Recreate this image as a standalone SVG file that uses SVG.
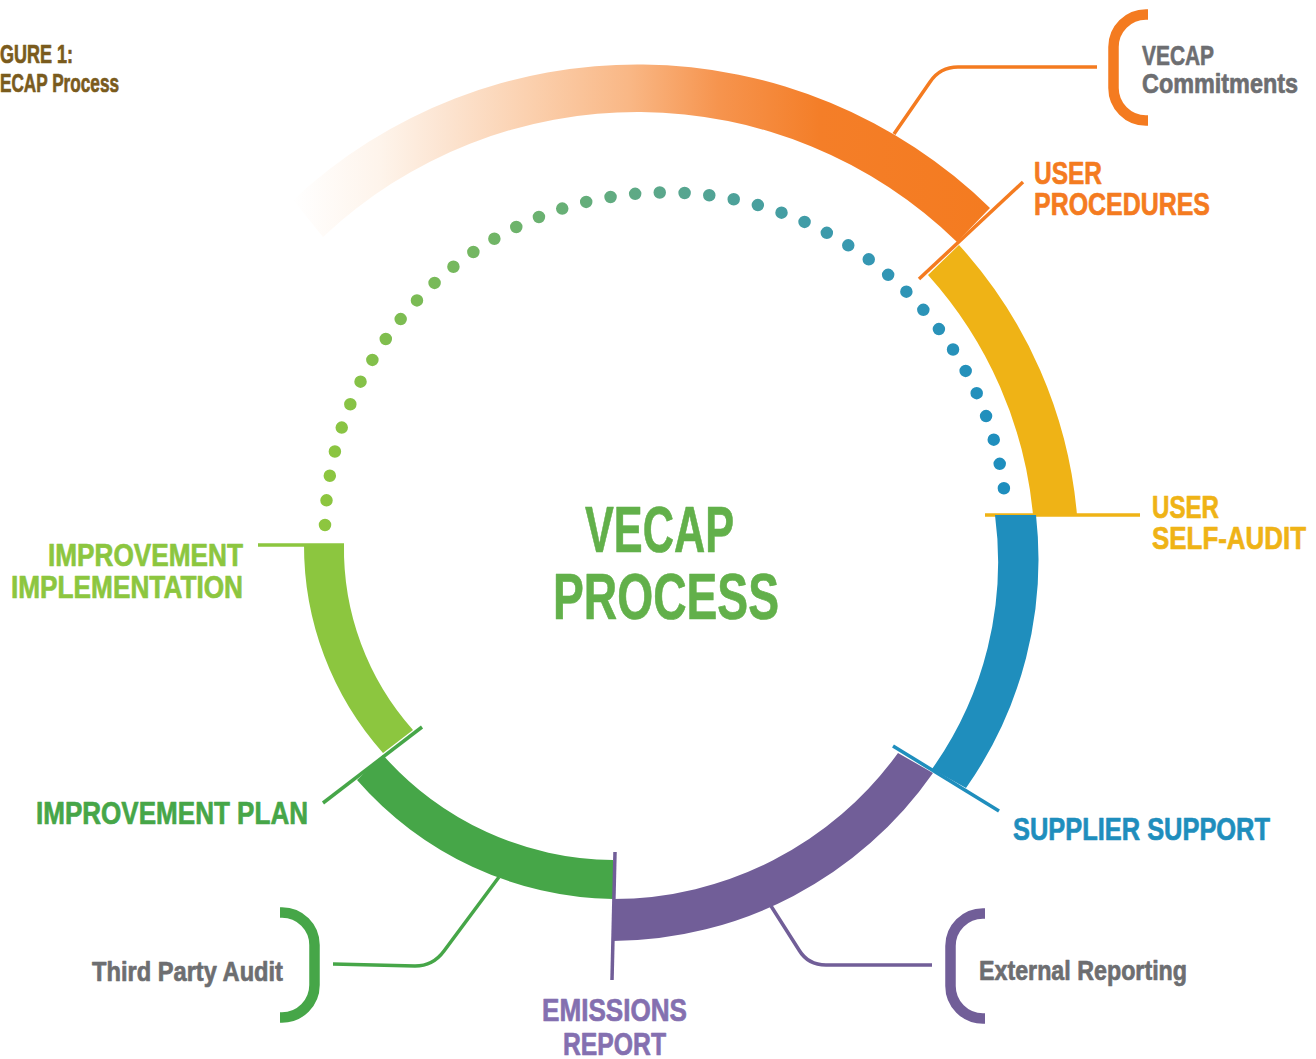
<svg xmlns="http://www.w3.org/2000/svg" width="1316" height="1059" viewBox="0 0 1316 1059">
  <defs>
    <!-- fade of the procedures arc from white into full orange -->
    <linearGradient id="gradProcedures" gradientUnits="userSpaceOnUse" x1="293" y1="0" x2="990" y2="0">
      <stop offset="0" stop-color="#FFFFFF"/>
      <stop offset="0.125" stop-color="#FEF4EB"/>
      <stop offset="0.225" stop-color="#FCE3CF"/>
      <stop offset="0.34" stop-color="#FBD0AE"/>
      <stop offset="0.483" stop-color="#F9B785"/>
      <stop offset="0.61" stop-color="#F6944E"/>
      <stop offset="0.756" stop-color="#F47E28"/>
      <stop offset="1" stop-color="#F47B20"/>
    </linearGradient>
    <!-- dotted return path, green on the left to blue on the right -->
    <linearGradient id="gradDots" gradientUnits="userSpaceOnUse" x1="325" y1="0" x2="1004" y2="0">
      <stop offset="0" stop-color="#8DC63F"/>
      <stop offset="0.1" stop-color="#7EBD50"/>
      <stop offset="0.5" stop-color="#5AA78C"/>
      <stop offset="0.8" stop-color="#3597B3"/>
      <stop offset="1" stop-color="#1E8EBE"/>
    </linearGradient>
  </defs>
  <style>
    .lbl { font-family: "Liberation Sans", Arial, "DejaVu Sans Condensed", sans-serif; font-weight: bold; stroke-width: 0.7; stroke-linejoin: round; }
    .big { font-size: 32px; }
    .note { font-size: 28px; }
    .c-title { fill: #7A5B1D; stroke: #7A5B1D; }
    .c-centre { fill: #62B04A; stroke: #62B04A; }
    .c-orange { fill: #F47B20; stroke: #F47B20; }
    .c-yellow { fill: #EFB316; stroke: #EFB316; }
    .c-blue { fill: #1F8EBD; stroke: #1F8EBD; }
    .c-purple { fill: #8470B0; stroke: #8470B0; }
    .c-green { fill: #46A648; stroke: #46A648; }
    .c-lime { fill: #8CC63F; stroke: #8CC63F; }
    .c-grey { fill: #6D6E71; stroke: #6D6E71; }
    .tick { fill: none; stroke-width: 3.5; }
    .link { fill: none; stroke-width: 3.5; stroke-linecap: butt; }
    .bracket { fill: none; stroke-width: 10.5; }
  </style>

  <rect width="1316" height="1059" fill="#FFFFFF"/>

  <!-- figure caption -->
  <g id="caption">
    <text class="lbl c-title" x="0" y="63" font-size="25" textLength="73" lengthAdjust="spacingAndGlyphs">GURE 1:</text>
    <text class="lbl c-title" x="0" y="92" font-size="25" stroke-width="0.3" textLength="119" lengthAdjust="spacingAndGlyphs">ECAP Process</text>
  </g>

  <!-- dotted arc closing the cycle: 42 dots, the path runs half a step past the last one -->
  <g id="cycle-return">
    <path d="M325,525 A341,341 0 0 1 1005.3,500.5" fill="none" stroke="url(#gradDots)" stroke-width="12.5" stroke-linecap="round" pathLength="41.5" stroke-dasharray="0 1"/>
  </g>

  <!-- centre title -->
  <g id="centre">
    <text class="lbl c-centre" x="585" y="552" font-size="65" stroke-width="1.2" textLength="149" lengthAdjust="spacingAndGlyphs">VECAP</text>
    <text class="lbl c-centre" x="553" y="619" font-size="65" stroke-width="1.2" textLength="226" lengthAdjust="spacingAndGlyphs">PROCESS</text>
  </g>

  <g id="user-procedures">
    <path d="M293,200 A505,505 0 0 1 990,208 L957,242 A458,458 0 0 0 323,237 Z" fill="url(#gradProcedures)"/>
    <line class="tick" x1="1023" y1="182" x2="919" y2="279" stroke="#F47B20"/>
    <text class="lbl big c-orange" x="1034" y="184" textLength="68" lengthAdjust="spacingAndGlyphs">USER</text>
    <text class="lbl big c-orange" x="1034" y="215" textLength="176" lengthAdjust="spacingAndGlyphs">PROCEDURES</text>
  </g>

  <g id="user-self-audit">
    <path d="M959,245 A460,460 0 0 1 1077,515 L1033,515 A415,415 0 0 0 928,275 Z" fill="#EFB316"/>
    <line class="tick" x1="985" y1="515" x2="1140" y2="515" stroke="#EFB316"/>
    <text class="lbl big c-yellow" x="1152" y="518" textLength="67" lengthAdjust="spacingAndGlyphs">USER</text>
    <text class="lbl big c-yellow" x="1152" y="549" textLength="154" lengthAdjust="spacingAndGlyphs">SELF-AUDIT</text>
  </g>

  <g id="supplier-support">
    <path d="M1036,515 A397,397 0 0 1 966,788 L932,769 A357,357 0 0 0 995,515 Z" fill="#1F8EBD"/>
    <text class="lbl big c-blue" x="1013" y="840" textLength="257" lengthAdjust="spacingAndGlyphs">SUPPLIER SUPPORT</text>
  </g>

  <g id="emissions-report">
    <path d="M933,773 A393,393 0 0 1 613,941 L613,899 A352,352 0 0 0 898,753 Z" fill="#715E98"/>
    <text class="lbl big c-purple" x="542" y="1021" textLength="145" lengthAdjust="spacingAndGlyphs">EMISSIONS</text>
    <text class="lbl big c-purple" x="563" y="1055" textLength="103" lengthAdjust="spacingAndGlyphs">REPORT</text>
  </g>

  <g id="improvement-plan">
    <path d="M613,899 A347,347 0 0 1 357,780 L383,755 A309,309 0 0 0 613,860 Z" fill="#46A648"/>
    <text class="lbl big c-green" x="36" y="824" textLength="272" lengthAdjust="spacingAndGlyphs">IMPROVEMENT PLAN</text>
  </g>

  <g id="improvement-implementation">
    <path d="M383,753 A312,312 0 0 1 304,544 L344,544 A272,272 0 0 0 413,730 Z" fill="#8CC63F"/>
    <line class="tick" x1="258" y1="545" x2="344" y2="545" stroke="#8CC63F"/>
    <text class="lbl big c-lime" x="48" y="566" textLength="195" lengthAdjust="spacingAndGlyphs">IMPROVEMENT</text>
    <text class="lbl big c-lime" x="11" y="598" textLength="232" lengthAdjust="spacingAndGlyphs">IMPLEMENTATION</text>
  </g>

  <!-- segment start markers drawn over the band joints -->
  <g id="segment-ticks">
    <line class="tick" x1="893" y1="746" x2="999" y2="811" stroke="#1F8EBD"/>
    <line class="tick" x1="615" y1="852" x2="612" y2="980" stroke="#715E98"/>
    <line class="tick" x1="323" y1="803" x2="422" y2="727" stroke="#46A648"/>
  </g>

  <!-- leader lines to the side notes -->
  <g id="connectors">
    <path class="link" d="M1097,67 H958 Q940,67 930,82 L894,134" stroke="#F47B20"/>
    <path class="link" d="M771,906 L799,950 Q808,965 826,965 H932" stroke="#715E98"/>
    <path class="link" d="M333,964 L415,966 Q433,966 444,951 L499,877" stroke="#46A648"/>
  </g>

  <g id="note-vecap-commitments">
    <path class="bracket" d="M1148,14.5 H1146 A32.5,32.5 0 0 0 1113.5,47 V88 A32.5,32.5 0 0 0 1146,120.5 H1148" stroke="#F47B20"/>
    <text class="lbl note c-grey" x="1142" y="65" textLength="72" lengthAdjust="spacingAndGlyphs">VECAP</text>
    <text class="lbl note c-grey" x="1142" y="93" textLength="156" lengthAdjust="spacingAndGlyphs">Commitments</text>
  </g>

  <g id="note-external-reporting">
    <path class="bracket" d="M985,913.5 H983 A32.5,32.5 0 0 0 950.5,946 V986 A32.5,32.5 0 0 0 983,1018.5 H985" stroke="#715E98"/>
    <text class="lbl note c-grey" x="979" y="980" textLength="208" lengthAdjust="spacingAndGlyphs">External Reporting</text>
  </g>

  <g id="note-third-party-audit">
    <path class="bracket" d="M280,912.5 H282 A32.5,32.5 0 0 1 314.5,945 V985 A32.5,32.5 0 0 1 282,1017.5 H280" stroke="#46A648"/>
    <text class="lbl note c-grey" x="92" y="981" font-size="29" textLength="191" lengthAdjust="spacingAndGlyphs">Third Party Audit</text>
  </g>
</svg>
